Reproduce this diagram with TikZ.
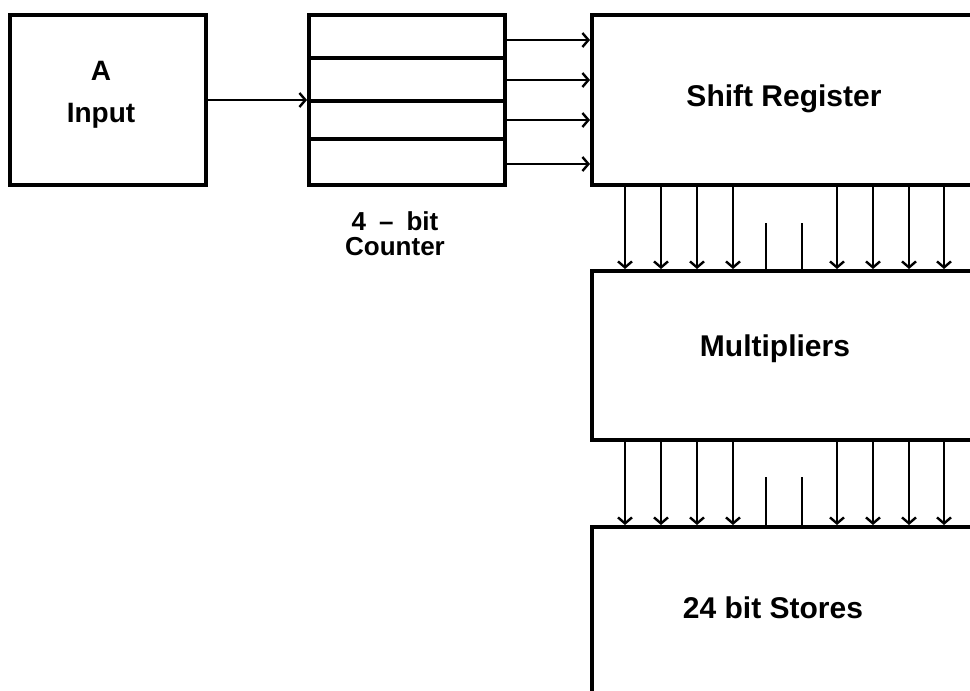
\documentclass[tikz,border=0pt]{standalone}
\usepackage{fontspec}
\setmainfont{Liberation Sans}
\usetikzlibrary{arrows.meta}
\begin{document}
\begin{tikzpicture}[x=1pt,y=-1pt,
  box/.style={draw, line width=4pt, inner sep=0pt, anchor=north west},
  rowline/.style={line width=3.4pt},
  conn/.style={line width=2.4pt, -{Straight Barb[length=6pt,width=14pt,line width=2.4pt]}},
  stub/.style={line width=2.4pt},
  lab/.style={font=\fontsize{28}{32}\selectfont\bfseries, anchor=base, inner sep=0pt},
  clab/.style={font=\fontsize{26}{30}\selectfont\bfseries, anchor=base, inner sep=0pt},
  biglab/.style={font=\fontsize{30}{34}\selectfont\bfseries, anchor=base, inner sep=0pt}]
\useasboundingbox (0,0) rectangle (970,691);
\clip (0,0) rectangle (970,691);
% boxes
\node[box, minimum width=196pt, minimum height=170pt] (a) at (8,13) {};
\node[box, minimum width=196pt, minimum height=170pt] (cnt) at (307,13) {};
\node[box, minimum width=420pt, minimum height=170pt] (sr) at (590,13) {};
\node[box, minimum width=420pt, minimum height=169pt] (mul) at (590,269) {};
\node[box, minimum width=420pt, minimum height=240pt] (st) at (590,525) {};
% counter rows
\foreach \d in {45,88,126}
  \draw[rowline] ([yshift=-\d pt]cnt.north west) -- ([yshift=-\d pt]cnt.north east);
% labels
\node[lab] (la) at (101,80) {A};
\node[lab] (li) at (101,122) {Input};
\node[clab] (lc1) at (395,230) {4\hspace{0.5em}–\hspace{0.5em}bit};
\node[clab] (lc2) at (395,255) {Counter};
\node[biglab] (lsr) at (784,106) {Shift Register};
\node[biglab] (lmul) at (775,356) {Multipliers};
\node[biglab] (lst) at (773,618) {24 bit Stores};
% input arrow
\draw[conn] (a.east) -- (a.east -| cnt.west);
% counter outputs
\foreach \d in {27,67,107,151}
  \draw[conn] ([yshift=-\d pt]cnt.north east) -- ([yshift=-\d pt]cnt.north east -| sr.west);
% vertical connections
\foreach \d in {35,71,107,143,247,283,319,354}{
  \draw[conn] ([xshift=\d pt]sr.south west) -- ([xshift=\d pt]mul.north west);
  \draw[conn] ([xshift=\d pt]mul.south west) -- ([xshift=\d pt]st.north west);
}
\foreach \d in {176,212}{
  \draw[stub] ([xshift=\d pt]mul.north west) -- ++(0,-46);
  \draw[stub] ([xshift=\d pt]st.north west) -- ++(0,-48);
}
\end{tikzpicture}
\end{document}
